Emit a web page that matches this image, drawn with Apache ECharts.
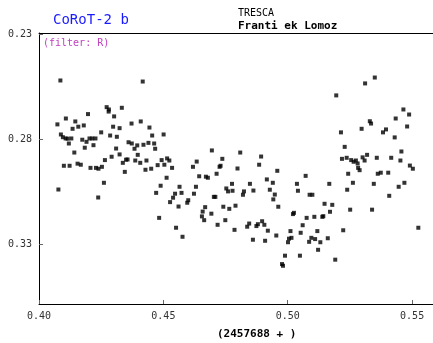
<!DOCTYPE html>
<html><head><meta charset="utf-8">
<script src="https://cdn.jsdelivr.net/npm/echarts@6/dist/echarts.min.js"></script>
<style>html,body{margin:0;padding:0;background:#fff}#c{width:433px;height:343px}</style>
</head><body><div id="c"></div><script>
// Time offsets (days, HJD - 2457688)
const times = [
0.4086,0.4272,0.4281,0.4280,0.4197,0.4108,0.4302,0.4146,0.4074,0.4180,0.4158,0.4135,0.4298,0.4324,0.4250,0.4088,0.4096,0.4107,0.4115,0.4130,0.4174,0.4203,0.4214,0.4227,0.4191,0.4286,0.4313,0.4120,0.4219,0.4184,0.4310,0.4142,0.4324,0.4292,0.4265,0.4155,0.4168,0.4100,0.4123,0.4207,0.4229,0.4239,0.4253,0.4261,0.4078,0.4238,
0.4417,0.4333,0.4409,0.4372,0.4444,0.4455,0.4501,0.4360,0.4373,0.4395,0.4384,0.4420,0.4440,0.4463,0.4467,0.4397,0.4350,0.4356,0.4337,0.4387,0.4407,0.4432,0.4493,0.4515,0.4524,0.4477,0.4504,0.4428,0.4451,0.4535,0.4634,0.4619,0.4345,0.4644,0.4513,0.4489,0.4565,0.4631,0.4471,0.4547,0.4539,0.4527,0.4573,0.4623,0.4600,0.4596,0.4561,0.4483,0.4551,0.4577,
0.4695,0.4809,0.4737,0.4893,0.4730,0.4726,0.4885,0.4798,0.4958,0.4671,0.4679,0.4714,0.4916,0.4940,0.4776,0.4848,0.4753,0.4760,0.4778,0.4928,0.4862,0.4824,0.4820,0.4948,0.4942,0.4703,0.4709,0.4962,0.4668,0.4741,0.4765,0.4790,0.4658,0.4655,0.4664,0.4693,0.4749,0.4718,0.4845,0.4837,0.4880,0.4874,0.4897,0.4906,0.4786,0.4920,0.4954,0.4860,0.4909,
0.5195,0.5214,0.5229,0.5218,0.5237,0.5255,0.5265,0.5274,0.5281,0.5283,0.5072,0.5243,0.5037,0.5167,0.5262,0.5041,0.5239,0.5088,0.5099,0.5148,0.5179,0.5251,0.5170,0.5025,0.5021,0.5143,0.5139,0.5107,0.5076,0.5060,0.5011,0.5052,0.5119,0.5223,0.5015,0.5005,0.5001,0.5095,0.5110,0.5086,0.5131,0.5161,0.5122,0.4989,0.4977,0.4981,0.5049,0.5191,
0.5350,0.5311,0.5465,0.5488,0.5434,0.5330,0.5335,0.5480,0.5297,0.5395,0.5383,0.5430,0.5457,0.5301,0.5309,0.5319,0.5358,0.5416,0.5453,0.5289,0.5491,0.5503,0.5362,0.5374,0.5404,0.5346,0.5469,0.5446,0.5408,0.5339,0.5525
];
// Relative magnitudes
const mags = [
0.2519,0.2646,0.2657,0.2667,0.2679,0.2700,0.2690,0.2714,0.2728,0.2733,0.2739,0.2749,0.2739,0.2746,0.2766,0.2776,0.2789,0.2795,0.2796,0.2795,0.2801,0.2795,0.2795,0.2795,0.2811,0.2781,0.2787,0.2819,0.2827,0.2839,0.2843,0.2862,0.2871,0.2882,0.2898,0.2915,0.2920,0.2925,0.2925,0.2935,0.2935,0.2939,0.2930,0.3006,0.3038,0.3076,
0.2524,0.2649,0.2714,0.2724,0.2743,0.2781,0.2776,0.2813,0.2819,0.2828,0.2844,0.2825,0.2816,0.2819,0.2844,0.2873,0.2896,0.2895,0.2911,0.2900,0.2911,0.2900,0.2898,0.2890,0.2900,0.2922,0.2920,0.2944,0.2939,0.2935,0.2905,0.2930,0.2954,0.2975,0.2982,0.3020,0.3025,0.3025,0.3054,0.3058,0.3077,0.3098,0.3054,0.3058,0.3089,0.3101,0.3119,0.3173,0.3220,0.3263,
0.2852,0.2862,0.2892,0.2881,0.2925,0.2930,0.2920,0.2938,0.2949,0.2977,0.2982,0.2963,0.2990,0.3006,0.3011,0.3011,0.3033,0.3047,0.3044,0.3039,0.3043,0.3047,0.3063,0.3062,0.3085,0.3073,0.3073,0.3120,0.3122,0.3120,0.3130,0.3115,0.3143,0.3166,0.3184,0.3153,0.3184,0.3206,0.3200,0.3215,0.3203,0.3212,0.3189,0.3206,0.3230,0.3234,0.3257,0.3277,0.3282,
0.2590,0.2766,0.2835,0.2892,0.2887,0.2898,0.2906,0.2900,0.2914,0.2935,0.2973,0.2963,0.3011,0.3011,0.3006,0.3044,0.3039,0.3063,0.3063,0.3106,0.3111,0.3134,0.3144,0.3149,0.3155,0.3165,0.3168,0.3168,0.3173,0.3208,0.3236,0.3244,0.3236,0.3232,0.3268,0.3272,0.3289,0.3268,0.3274,0.3287,0.3289,0.3270,0.3325,0.3353,0.3393,0.3401,0.3353,0.3372,
0.2505,0.2533,0.2657,0.2681,0.2700,0.2713,0.2724,0.2738,0.2749,0.2752,0.2766,0.2790,0.2857,0.2885,0.2900,0.2873,0.2887,0.2887,0.2900,0.2946,0.2924,0.2939,0.2963,0.2958,0.2958,0.3011,0.3006,0.3025,0.3068,0.3134,0.3220
];
const xTicks = [0.40, 0.45, 0.50, 0.55];
const yTicks = [0.23, 0.28, 0.33];

const mono = 'DejaVu Sans Mono';
const chart = echarts.init(document.getElementById('c'), null, {renderer: 'canvas'});
const xMin = 0.40, xMax = 0.5584;
chart.setOption({
  animation: false,
  backgroundColor: '#fff',
  title: [
    {text: 'CoRoT-2 b', left: 53, top: 13, padding: 0, textStyle: {color: '#1a1aff', fontFamily: mono, fontSize: 14, fontWeight: 'normal'}},
    {text: 'TRESCA', left: 238, top: 8, padding: 0, textStyle: {color: '#000', fontFamily: mono, fontSize: 10, fontWeight: 'normal'}},
    {text: 'Franti ek Lomoz', left: 238, top: 21, padding: 0, textStyle: {color: '#000', fontFamily: mono, fontSize: 11, fontWeight: 'bold'}},
    {text: '(filter: R)', left: 43, top: 38, padding: 0, textStyle: {color: '#c040c0', fontFamily: mono, fontSize: 10, fontWeight: 'normal'}},
    {text: '(2457688 + )', left: 217, top: 329, padding: 0, textStyle: {color: '#000', fontFamily: mono, fontSize: 11, fontWeight: 'bold'}}
  ],
  grid: {left: 39, top: 33, right: -1, bottom: 39, show: false, containLabel: false},
  xAxis: [{
    type: 'value', min: xMin, max: xMax, position: 'bottom',
    axisLine: {show: true, lineStyle: {color: '#000', width: 1}},
    axisTick: {show: true, inside: true, length: 4, customValues: xTicks, lineStyle: {color: '#666'}},
    axisLabel: {customValues: xTicks, formatter: v => v.toFixed(2), color: '#333', fontFamily: mono, fontSize: 10, margin: 7},
    splitLine: {show: false}
  }, {
    type: 'value', min: xMin, max: xMax, position: 'top',
    axisLine: {show: true, lineStyle: {color: '#000', width: 1}},
    axisTick: {show: false}, axisLabel: {show: false}, splitLine: {show: false}
  }],
  yAxis: {
    type: 'value', inverse: true, min: 0.2293, max: 0.3583,
    axisLine: {show: true, lineStyle: {color: '#000', width: 1}},
    axisTick: {show: true, inside: true, length: 4, customValues: yTicks, lineStyle: {color: '#666'}},
    axisLabel: {customValues: yTicks, formatter: v => v.toFixed(2), color: '#333', fontFamily: mono, fontSize: 10, margin: 7},
    splitLine: {show: false}
  },
  series: [{
    type: 'scatter',
    xAxisIndex: 0,
    data: times.map((t, i) => [t, mags[i]]),
    symbol: 'rect', symbolSize: 4,
    itemStyle: {color: '#000'}
  }]
});
</script></body></html>
